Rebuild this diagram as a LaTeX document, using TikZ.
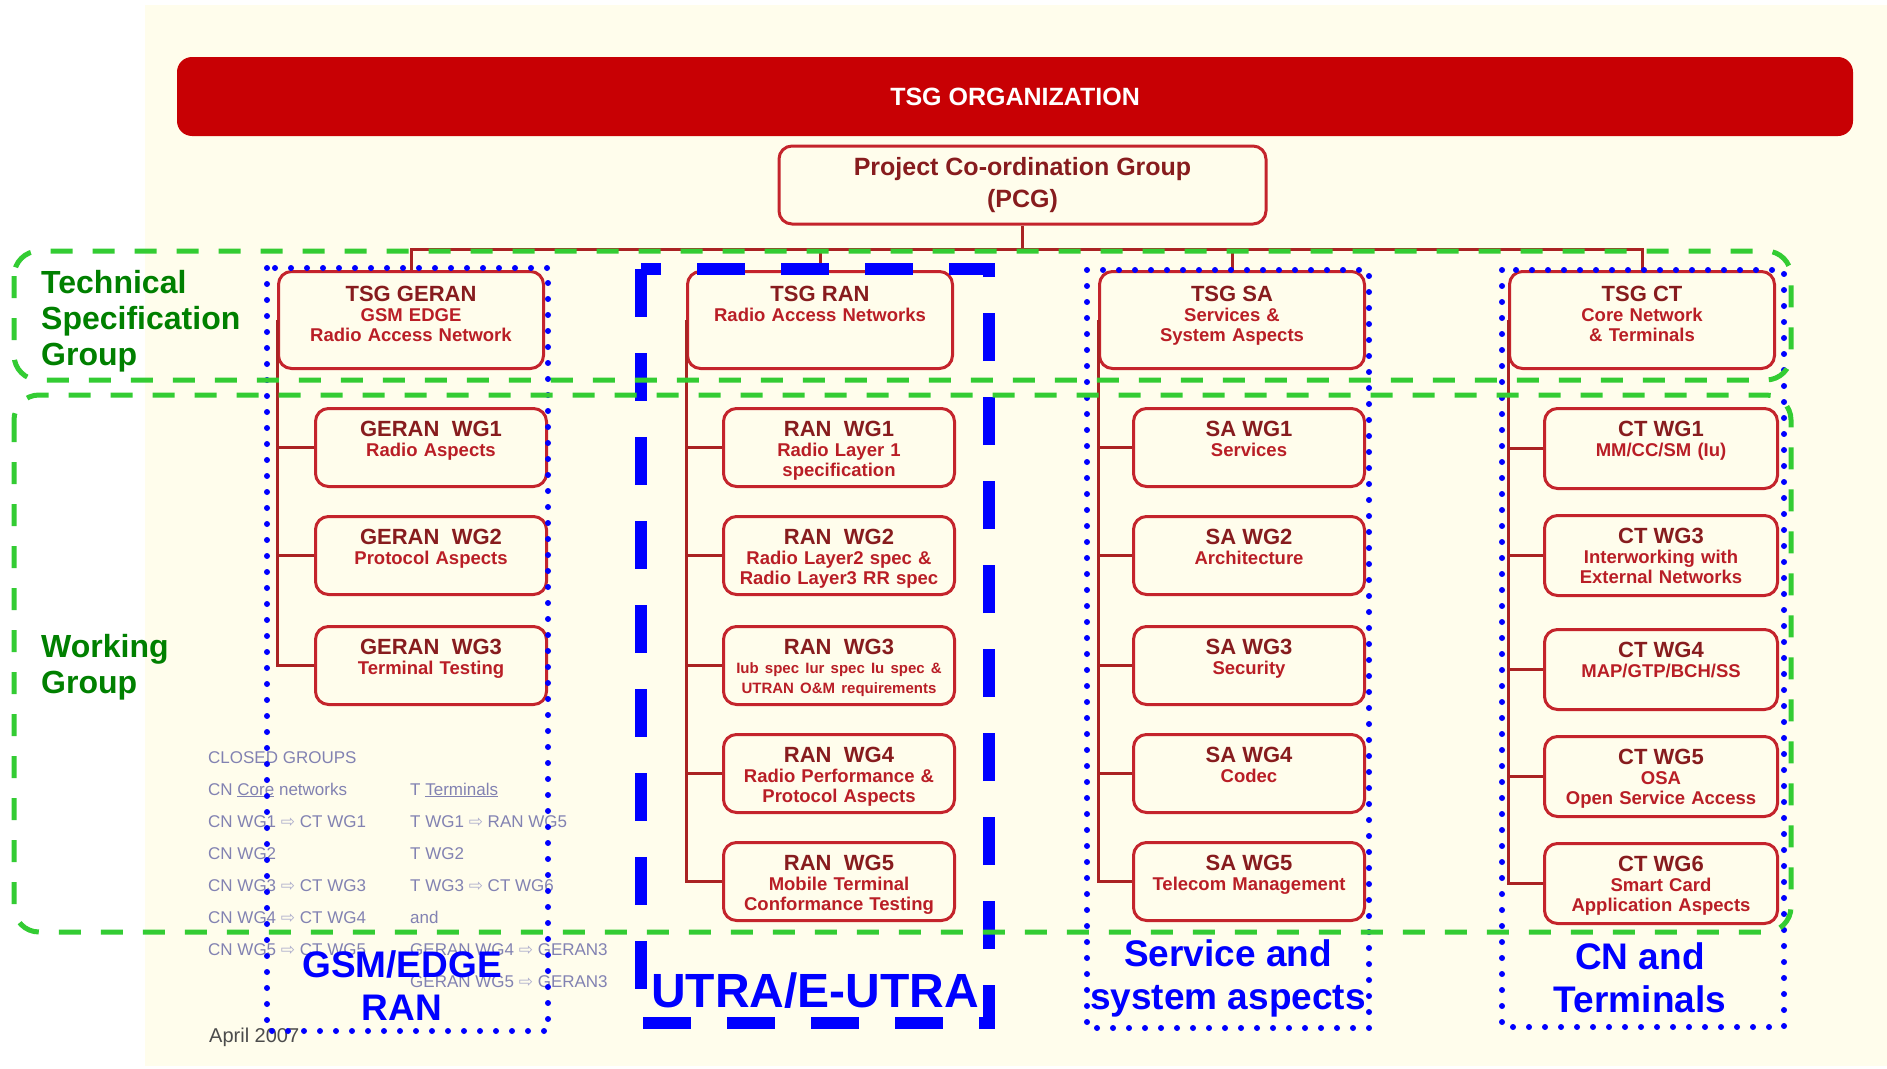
\documentclass[tikz,border=0pt]{standalone}
\usepackage{fontspec}
\setmainfont{Liberation Sans}
\newfontfamily\arrowfont{DejaVu Sans}
\usetikzlibrary{positioning}

\definecolor{paper}{RGB}{255,253,236}
\definecolor{barred}{RGB}{200,0,4}
\definecolor{boxred}{RGB}{196,36,44}
\definecolor{titred}{RGB}{135,28,30}
\definecolor{subred}{RGB}{185,30,38}
\definecolor{linkred}{RGB}{170,35,35}
\definecolor{grpgreen}{RGB}{51,204,51}
\definecolor{txtgreen}{RGB}{0,128,0}
\definecolor{legend}{RGB}{130,130,178}
\definecolor{legarrow}{RGB}{175,175,205}

\newcommand\wgtitle[1]{{\fontsize{22}{20}\selectfont\color{titred}#1}\\}
\newcommand\legar{{\arrowfont\color{legarrow}⇨}}

\tikzset{
  tsg/.style={draw=boxred, line width=3pt, rounded corners=13pt, fill=paper,
    minimum width=265pt, minimum height=97pt, anchor=north west, inner sep=0pt},
  wg/.style={tsg, minimum width=231pt, minimum height=78pt},
  boxtext/.style={anchor=north, inner sep=0pt, text width=240pt, align=center,
    text=subred, font=\fontsize{18.5}{20}\selectfont\bfseries},
  link/.style={draw=linkred, line width=3pt},
  grp/.style={draw=grpgreen, line width=5pt, rounded corners=25pt, dash pattern=on 22pt off 20pt},
  area/.style={draw=blue, line width=6pt, line cap=round, dash pattern=on 0pt off 16pt},
  areadash/.style={draw=blue, line width=12pt, dash pattern=on 48pt off 36pt},
  arealabel/.style={text=blue, font=\fontsize{37}{43}\selectfont\bfseries, align=center, inner sep=0pt},
  grplabel/.style={text=txtgreen, font=\fontsize{32}{36}\selectfont\bfseries, align=left,
    inner sep=0pt, anchor=north west},
  legtext/.style={text=legend, font=\fontsize{17}{17}\selectfont, inner sep=0pt, anchor=base west},
}

\begin{document}
\begin{tikzpicture}[x=1pt,y=-1pt]
  \useasboundingbox (0,0) rectangle (1887,1068);
  \fill[white] (0,0) rectangle (1887,1068);
  \fill[paper] (145,5) rectangle (1887,1066);

  % top of the chart
  \node[fill=barred, rounded corners=15pt, minimum width=1676pt, minimum height=79pt,
    text=white, font=\fontsize{25}{30}\selectfont\bfseries] (bar) at (1015,96.5) {TSG ORGANIZATION};
  \node[draw=boxred, line width=3pt, rounded corners=13pt, fill=paper, minimum width=487pt,
    minimum height=78pt, align=center, text=titred, font=\fontsize{25}{32}\selectfont\bfseries]
    (pcg) at (1022.5,185) {Project Co-ordination Group\\(PCG)};

  % the four TSGs
  \node[tsg] (geran) at (277,270) {};
  \node[tsg] (ran) at (686,270) {};
  \node[tsg] (sa) at (1098,270) {};
  \node[tsg] (ct) at (1508,270) {};
  \node[boxtext, below=16pt of geran.north] (gerant) {\wgtitle{TSG GERAN}GSM EDGE\\Radio Access Network};
  \node[boxtext, below=16pt of ran.north] (rant) {\wgtitle{TSG RAN}Radio Access Networks};
  \node[boxtext, below=16pt of sa.north] (sat) {\wgtitle{TSG SA}Services \&\\System Aspects};
  \node[boxtext, below=16pt of ct.north] (ctt) {\wgtitle{TSG CT}Core Network\\\& Terminals};

  \coordinate (bus) at (1022.5,249);
  \draw[link] (pcg.south) -- (bus);
  \draw[link] (geran.north) |- (bus) -| (ct.north);
  \draw[link] (bus -| ran.north) -- (ran.north);
  \draw[link] (bus -| sa.north) -- (sa.north);

  % working groups
  \foreach \n/\y/\desc in {1/407/{Radio Aspects}, 2/515/{Protocol Aspects}, 3/625/{Terminal Testing}}{
    \node[wg] (gwg\n) at (314,\y) {};
    \node[boxtext, below=14pt of gwg\n.north] (gwgt\n) {\wgtitle{GERAN\ \ WG\n}\desc};
    \draw[link] (geran.west |- gwg\n.west) -- (gwg\n.west);
  }
  \draw[link] (geran.west) |- (gwg3.west);

  \foreach \n/\y/\desc in {1/407/{Radio Layer 1\\specification},
      2/515/{Radio Layer2 spec \&\\Radio Layer3 RR spec},
      3/625/{{\fontsize{15}{19}\selectfont Iub spec Iur spec Iu spec \&\\UTRAN O\&M requirements}},
      4/733/{Radio Performance \&\\Protocol Aspects},
      5/841/{Mobile Terminal\\Conformance Testing}}{
    \node[wg] (rwg\n) at (722,\y) {};
    \node[boxtext, below=14pt of rwg\n.north] (rwgt\n) {\wgtitle{RAN\ \ WG\n}\desc};
    \draw[link] (ran.west |- rwg\n.west) -- (rwg\n.west);
  }
  \draw[link] (ran.west) |- (rwg5.west);

  \foreach \n/\y/\desc in {1/407/{Services}, 2/515/{Architecture}, 3/625/{Security},
      4/733/{Codec}, 5/841/{Telecom Management}}{
    \node[wg] (swg\n) at (1132,\y) {};
    \node[boxtext, below=14pt of swg\n.north] (swgt\n) {\wgtitle{SA WG\n}\desc};
    \draw[link] (sa.west |- swg\n.west) -- (swg\n.west);
  }
  \draw[link] (sa.west) |- (swg5.west);

  \foreach \n/\y/\desc in {1/407/{MM/CC/SM (Iu)}, 3/514/{Interworking with\\External Networks},
      4/628/{MAP/GTP/BCH/SS}, 5/735/{OSA\\Open Service Access},
      6/842/{Smart Card\\Application Aspects}}{
    \node[wg, minimum width=233pt, minimum height=80pt] (cwg\n) at (1543,\y) {};
    \node[boxtext, below=14pt of cwg\n.north] (cwgt\n) {\wgtitle{CT WG\n}\desc};
    \draw[link] (ct.west |- cwg\n.west) -- (cwg\n.west);
  }
  \draw[link] (ct.west) |- (cwg6.west);

  % closed groups
  \foreach \i/\l in {0/CLOSED GROUPS, 1/CN \underline{Core} networks, 2/CN WG1 \legar\ CT WG1,
      3/CN WG2, 4/CN WG3 \legar\ CT WG3, 5/CN WG4 \legar\ CT WG4, 6/CN WG5 \legar\ CT WG5}
    \node[legtext] (legl\i) at (208,763+32*\i) {\l};
  \foreach \i/\l in {1/T \underline{Terminals}, 2/T WG1 \legar\ RAN WG5, 3/T WG2,
      4/T WG3 \legar\ CT WG6, 5/and, 6/GERAN WG4 \legar\ GERAN3, 7/GERAN WG5 \legar\ GERAN3}
    \node[legtext] (legr\i) at (410,763+32*\i) {\l};
  \node[anchor=base west, inner sep=0pt, text=black!70, font=\fontsize{20}{20}\selectfont]
    (date) at (209,1042) {April 2007};

  % areas and groups
  \draw[area] (267,268) rectangle (548,1031);
  \draw[areadash] (641,269) rectangle (989,1023);
  \draw[area] (1087,270) rectangle (1369,1028);
  \draw[area] (1502,270) rectangle (1784,1027);
  \draw[grp] (14,251) rectangle (1791,380);
  \draw[grp] (14,395) rectangle (1791,932);

  \node[grplabel] (tsglab) at (41,270) {Technical\\Specification\\Group};
  \node[grplabel] (wglab) at (41,634) {Working\\Group};

  \node[arealabel, anchor=north] (gsmlab) at (402,950) {GSM/EDGE\\RAN};
  \node[arealabel, anchor=base, font=\fontsize{48}{50}\selectfont\bfseries] (utralab) at (815,1007) {UTRA/E-UTRA};
  \node[arealabel, anchor=north] (salab) at (1228,939) {Service and\\system aspects};
  \node[arealabel, anchor=north] (ctlab) at (1640,942) {CN and\\Terminals};
\end{tikzpicture}
\end{document}
